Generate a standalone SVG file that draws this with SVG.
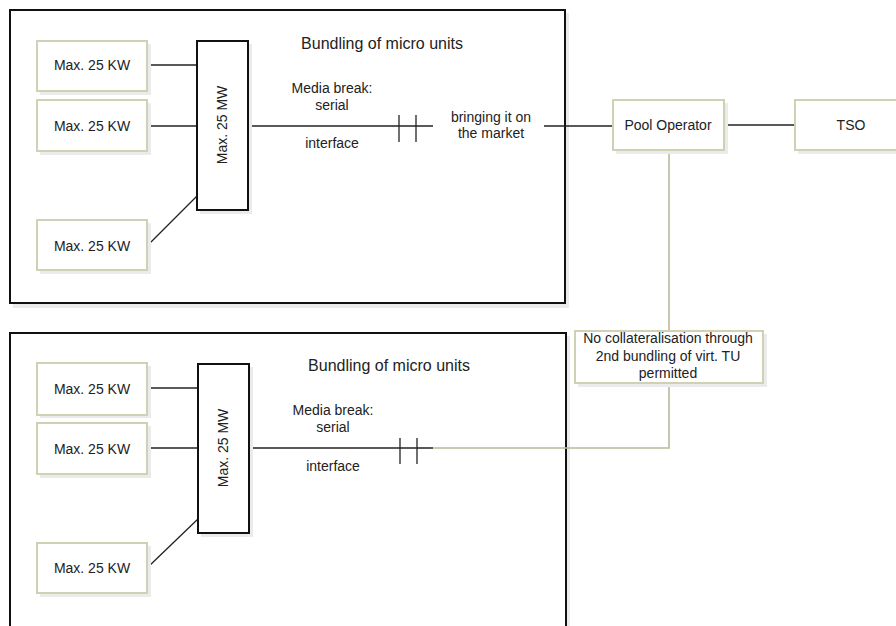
<svg xmlns="http://www.w3.org/2000/svg" width="896" height="626" viewBox="0 0 896 626">
<style>
text{font-family:"Liberation Sans",Arial,sans-serif;fill:#222;text-anchor:middle}
.t14{font-size:14px}
.t16{font-size:16px}
.frame{fill:#fff;stroke:#111;stroke-width:2}
.sh{fill:#ebebeb}
.node{fill:#fff;stroke:#cfd0b4;stroke-width:2}
.mw{fill:#fff;stroke:#111;stroke-width:2}
.ln{stroke:#222;stroke-width:1.3;fill:none}
.ol{stroke:#b9b99a;stroke-width:1.6;fill:none}
</style>
<rect width="896" height="626" fill="#fff"/>

<g id="bundle1">
<rect class="sh" x="13" y="13" width="556" height="295"/>
<rect class="frame" x="10" y="10" width="555" height="293"/>
<text class="t16" x="382" y="49">Bundling of micro units</text>
</g>
<g id="bundle2">
<rect class="sh" x="13" y="336" width="557" height="295"/>
<rect class="frame" x="10" y="333" width="556" height="300"/>
<text class="t16" x="389" y="371">Bundling of micro units</text>
</g>

<g id="connectors">
<line class="ln" x1="147" y1="65" x2="197" y2="65"/>
<line class="ln" x1="147" y1="126" x2="197" y2="126"/>
<line class="ln" x1="147" y1="246" x2="198" y2="195"/>
<line class="ln" x1="248" y1="126" x2="433" y2="126"/>
<line class="ln" x1="399" y1="115" x2="399" y2="142"/>
<line class="ln" x1="416" y1="115" x2="416" y2="142"/>
<line class="ln" x1="544" y1="126" x2="614" y2="126"/>
<line class="ln" x1="724" y1="125" x2="795" y2="125"/>
<line class="ln" x1="147" y1="388" x2="198" y2="388"/>
<line class="ln" x1="147" y1="448" x2="198" y2="448"/>
<line class="ln" x1="147" y1="568" x2="199" y2="518"/>
<line class="ln" x1="249" y1="448" x2="433" y2="448"/>
<line class="ln" x1="400" y1="438" x2="400" y2="464"/>
<line class="ln" x1="417" y1="438" x2="417" y2="464"/>
<line class="ol" x1="669" y1="150" x2="669" y2="331"/>
<polyline class="ol" points="669,383 669,448 433,448"/>
</g>

<g id="kw1"><rect class="sh" x="40" y="44" width="111" height="51"/><rect class="node" x="37" y="41" width="110" height="50"/><text class="t14" x="92" y="70">Max. 25 KW</text></g>
<g id="kw2"><rect class="sh" x="40" y="103" width="111" height="52"/><rect class="node" x="37" y="100" width="110" height="51"/><text class="t14" x="92" y="131">Max. 25 KW</text></g>
<g id="kw3"><rect class="sh" x="40" y="223" width="111" height="51"/><rect class="node" x="37" y="220" width="110" height="50"/><text class="t14" x="92" y="251">Max. 25 KW</text></g>
<g id="mw1"><rect class="sh" x="200" y="44" width="52" height="170"/><rect class="mw" x="197" y="41" width="51" height="169"/><text class="t14" transform="translate(227,125) rotate(-90)">Max. 25 MW</text></g>

<g id="kw4"><rect class="sh" x="40" y="366" width="111" height="52"/><rect class="node" x="37" y="363" width="110" height="52"/><text class="t14" x="92" y="394">Max. 25 KW</text></g>
<g id="kw5"><rect class="sh" x="40" y="426" width="111" height="52"/><rect class="node" x="37" y="423" width="110" height="51"/><text class="t14" x="92" y="454">Max. 25 KW</text></g>
<g id="kw6"><rect class="sh" x="40" y="546" width="111" height="51"/><rect class="node" x="37" y="543" width="110" height="50"/><text class="t14" x="92" y="573">Max. 25 KW</text></g>
<g id="mw2"><rect class="sh" x="201" y="367" width="52" height="170"/><rect class="mw" x="198" y="364" width="51" height="169"/><text class="t14" transform="translate(228,448) rotate(-90)">Max. 25 MW</text></g>

<g id="labels1">
<text class="t14" x="332" y="93">Media break:</text>
<text class="t14" x="332" y="110">serial</text>
<text class="t14" x="332" y="148">interface</text>
<text class="t14" x="491" y="122">bringing it on</text>
<text class="t14" x="491" y="138">the market</text>
</g>
<g id="labels2">
<text class="t14" x="333" y="415">Media break:</text>
<text class="t14" x="333" y="432">serial</text>
<text class="t14" x="333" y="471">interface</text>
</g>

<g id="pool"><rect class="sh" x="616" y="103" width="112" height="51"/><rect class="node" x="613" y="100" width="111" height="50"/><text class="t14" x="668" y="130">Pool Operator</text></g>
<g id="tso"><rect class="sh" x="798" y="103" width="112" height="51"/><rect class="node" x="795" y="100" width="111" height="50"/><text class="t14" x="851" y="130">TSO</text></g>
<g id="note"><rect class="sh" x="578" y="334" width="189" height="53"/><rect class="node" x="575" y="331" width="188" height="52"/>
<text class="t14" x="668" y="343">No collateralisation through</text>
<text class="t14" x="668" y="361">2nd bundling of virt. TU</text>
<text class="t14" x="668" y="378">permitted</text>
</g>
</svg>
